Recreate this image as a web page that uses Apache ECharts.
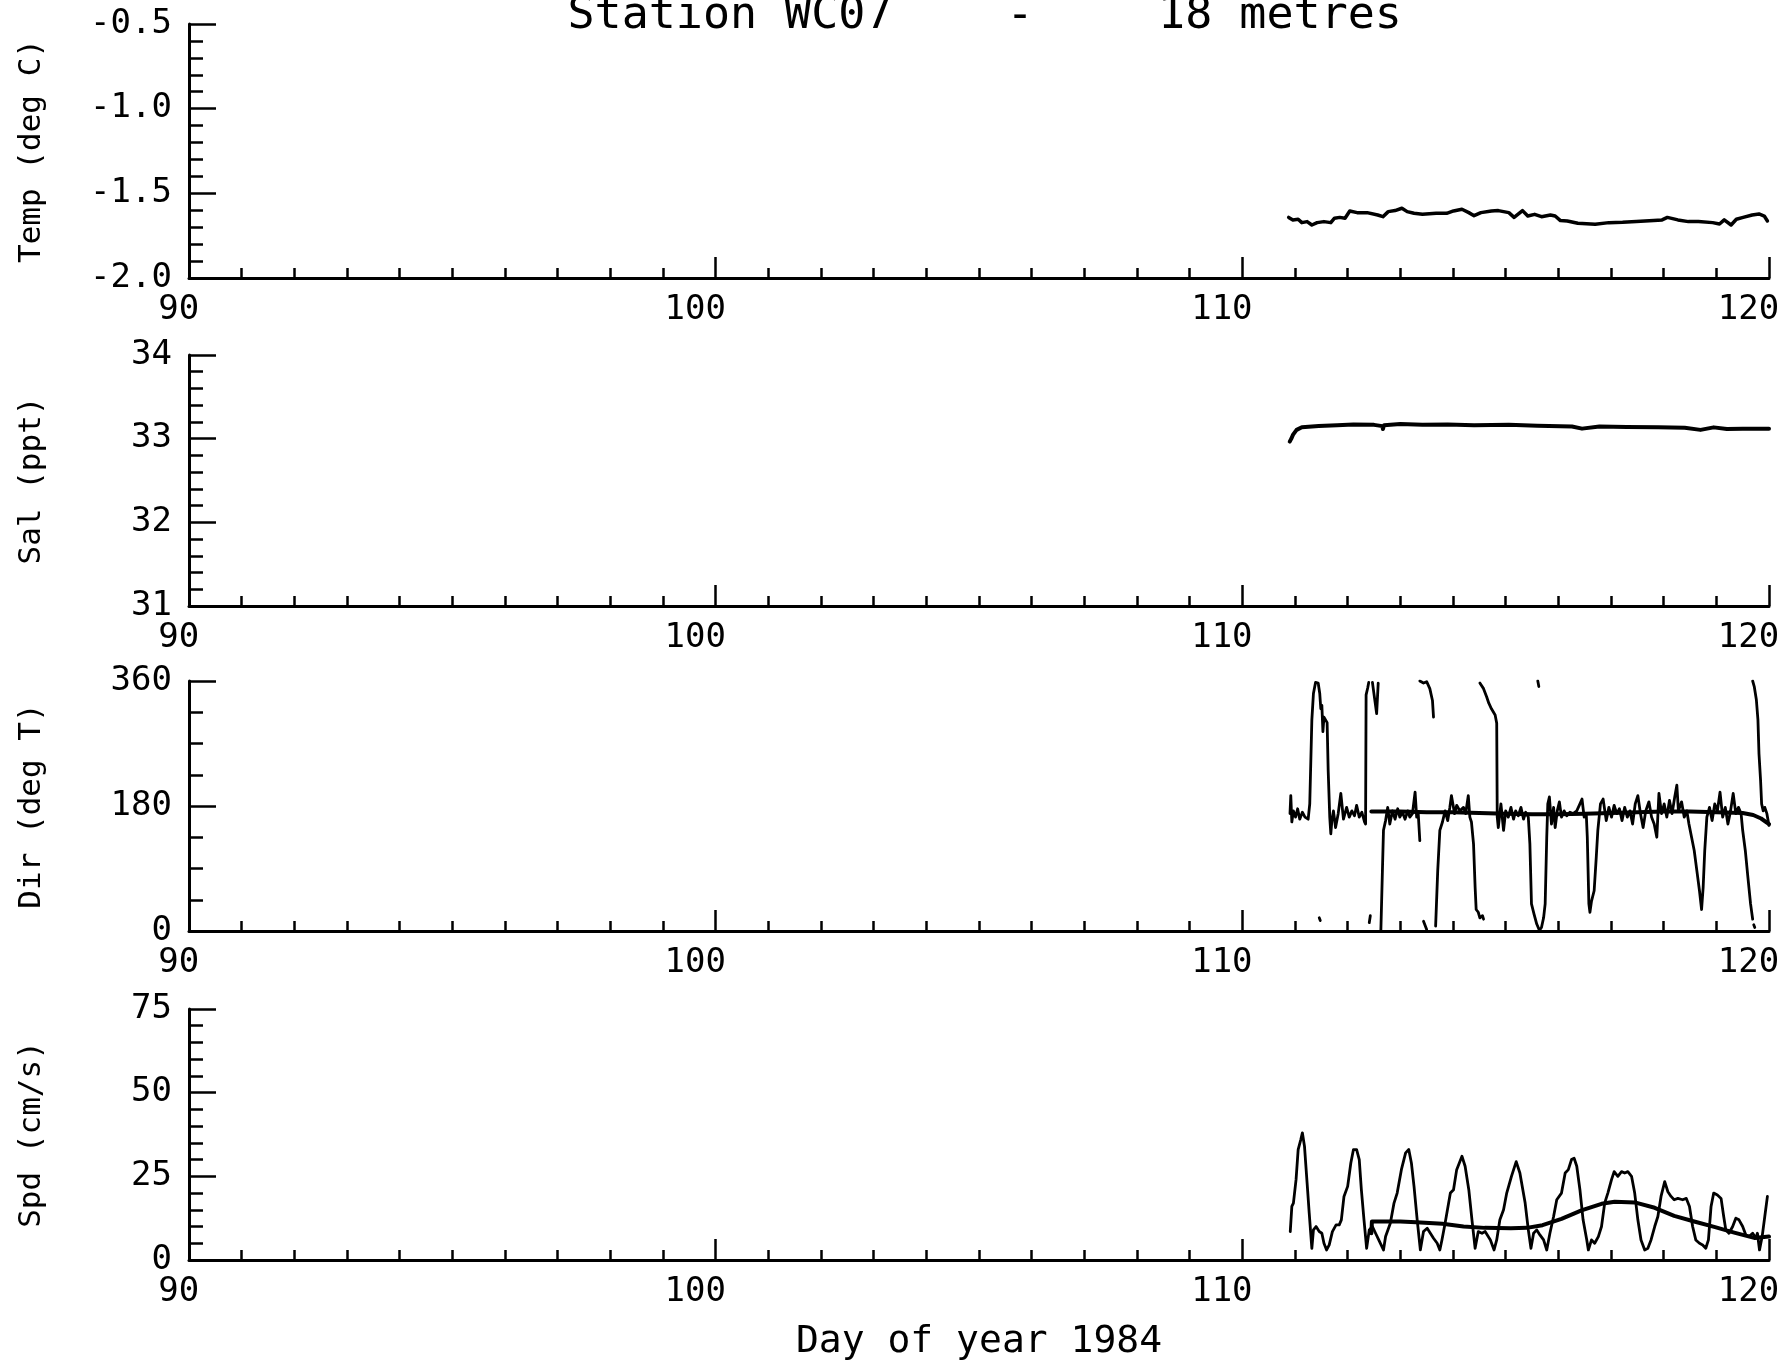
<!DOCTYPE html>
<html><head><meta charset="utf-8">
<script src="https://cdn.jsdelivr.net/npm/echarts@6/dist/echarts.min.js"></script>
<style>html,body{margin:0;padding:0;background:#fff;overflow:hidden}#c{width:1791px;height:1363px}</style>
</head><body><div id="c"></div>
<script>
// ---------- text ----------
const titleParts = ['Station WC07', '-', '18 metres'];
const yNames = ['Temp (deg C)', 'Sal (ppt)', 'Dir (deg T)', 'Spd (cm/s)'];
const xName = 'Day of year 1984';

// ---------- axes ----------
const xRange = [90, 120, 10];          // min, max, major interval
const tempRange = [-2.0, -0.5, 0.5];
const salRange = [31, 34, 1];
const dirRange = [0, 360, 180];
const spdRange = [0, 75, 25];

// ---------- data [day, value]; null = pen lifted ----------
const tempData = [
[110.88,-1.642],[110.96,-1.657],[111.06,-1.653],[111.13,-1.673],[111.23,-1.667],[111.32,-1.687],[111.42,-1.673],[111.55,-1.667],[111.68,-1.673],[111.75,-1.647],[111.85,-1.642],[111.95,-1.647],[112.04,-1.604],[112.18,-1.614],[112.37,-1.614],[112.57,-1.628],[112.67,-1.638],[112.77,-1.608],[112.90,-1.602],[113.03,-1.588],[113.13,-1.608],[113.26,-1.618],[113.42,-1.624],[113.68,-1.618],[113.88,-1.618],[114.01,-1.604],[114.17,-1.594],[114.30,-1.614],[114.40,-1.632],[114.53,-1.614],[114.73,-1.604],[114.86,-1.602],[115.06,-1.614],[115.16,-1.642],[115.32,-1.602],[115.42,-1.634],[115.55,-1.624],[115.68,-1.638],[115.85,-1.628],[115.94,-1.634],[116.04,-1.661],[116.17,-1.663],[116.37,-1.677],[116.70,-1.683],[116.96,-1.673],[117.22,-1.671],[117.48,-1.667],[117.81,-1.661],[117.97,-1.657],[118.07,-1.642],[118.27,-1.657],[118.47,-1.667],[118.66,-1.667],[118.93,-1.673],[119.06,-1.681],[119.15,-1.657],[119.28,-1.687],[119.38,-1.653],[119.51,-1.642],[119.68,-1.628],[119.81,-1.622],[119.91,-1.634],[119.97,-1.663]
];

const salData = [
[110.90,32.965],[110.93,33.00],[110.96,33.045],[111.03,33.105],[111.13,33.137],[111.45,33.15],[111.80,33.16],[112.11,33.17],[112.50,33.165],[112.66,33.15],[112.67,33.115],[112.69,33.16],[113.00,33.175],[113.42,33.165],[113.90,33.17],[114.40,33.16],[115.06,33.165],[115.60,33.155],[116.26,33.145],[116.45,33.12],[116.78,33.145],[117.30,33.14],[117.90,33.137],[118.40,33.13],[118.70,33.105],[118.95,33.135],[119.20,33.115],[119.50,33.12],[120.00,33.12]
];

const dirRaw = [
[110.905,169],[110.92,195],[110.94,157],[110.97,173],[111.01,164],[111.05,176],[111.09,161],[111.14,171],[111.19,164],[111.25,161],[111.28,183],[111.32,304],[111.35,342],[111.39,358],[111.44,357],[111.47,342],[111.49,320],[111.51,325],[111.53,287],[111.55,308],[111.58,304],[111.61,300],[111.63,231],[111.66,164],[111.68,140],[111.70,159],
[111.73,173],[111.77,149],[111.82,169],[111.87,198],[111.92,161],[111.98,178],[112.03,164],[112.08,173],[112.13,166],[112.17,181],[112.22,164],[112.27,171],[112.32,157],[112.34,154],[112.35,340],[112.38,350],[112.40,358],
null,
[112.47,358],[112.52,330],[112.55,313],[112.58,357],
null,
[111.46,19],[111.48,15],
null,
[112.41,12],[112.43,22],
null,
[112.63,0],[112.66,87],[112.68,145],[112.72,159],[112.76,178],[112.80,154],[112.85,173],[112.90,161],[112.95,176],[112.99,164],[113.04,171],[113.09,161],[113.14,173],[113.18,164],[113.23,169],[113.28,200],[113.31,164],[113.34,169],[113.37,130],
null,
[113.37,360],[113.44,357],[113.50,359],[113.56,349],[113.61,332],[113.63,308],
null,
[113.44,14],[113.50,2],
null,
[113.67,7],[113.71,87],[113.75,145],[113.80,157],[113.85,173],[113.90,159],[113.94,178],[113.97,195],[114.03,169],[114.07,181],[114.13,173],[114.20,178],[114.24,169],[114.29,195],[114.32,164],[114.35,157],[114.39,125],[114.42,63],[114.44,31],[114.48,27],[114.51,19],[114.56,22],[114.58,17],
null,
[114.51,357],[114.58,349],[114.64,337],[114.68,328],[114.73,320],[114.80,311],[114.83,299],[114.84,164],[114.86,149],[114.91,183],[114.96,145],[115.00,173],[115.05,164],[115.10,178],[115.15,161],[115.19,173],[115.24,166],[115.29,178],[115.34,161],[115.38,171],[115.40,169],[115.43,164],[115.46,125],[115.49,39],[115.54,24],[115.59,10],[115.64,1],[115.68,5],[115.72,19],[115.75,39],[115.78,135],[115.80,183],
[115.83,193],[115.87,154],[115.91,178],[115.94,149],[115.98,173],[116.02,186],[116.06,164],[116.11,173],[116.16,166],[116.22,171],[116.28,169],[116.35,173],[116.41,183],[116.45,190],[116.49,164],[116.53,169],[116.55,135],[116.58,39],[116.60,27],[116.63,43],[116.68,58],[116.72,106],[116.75,145],[116.80,183],
[116.85,190],[116.91,159],[116.96,178],[117.01,164],[117.06,181],[117.11,169],[117.16,176],[117.21,159],[117.26,178],[117.31,164],[117.36,173],[117.41,154],[117.46,183],[117.51,195],[117.56,169],[117.61,149],[117.66,173],[117.72,186],[117.77,164],[117.82,154],[117.87,135],[117.91,198],[117.96,169],[118.01,183],[118.06,164],[118.11,188],[118.16,169],[118.21,193],[118.25,210],[118.28,173],[118.34,186],[118.39,164],[118.44,173],[118.48,154],[118.53,135],[118.58,116],[118.63,87],[118.68,58],[118.72,31],[118.75,63],[118.78,116],[118.82,164],
[118.87,178],[118.92,159],[118.97,183],[119.02,173],[119.07,200],[119.12,164],[119.17,178],[119.22,154],[119.27,173],[119.32,198],[119.37,169],[119.42,178],[119.47,169],[119.50,145],[119.55,116],[119.60,77],[119.65,39],[119.69,17],
null,
[119.71,9],[119.73,5],
null,
[115.61,360],[115.63,352],
null,
[119.69,360],[119.72,352],[119.76,333],[119.79,304],[119.81,255],[119.84,217],[119.86,183],[119.89,173],[119.92,178],[119.96,169],[120.00,152]
];

const dirSmooth = [
[112.45,172],[113.0,172],[113.5,171],[114.0,171],[114.5,170],[115.0,169],[115.5,168],[116.0,168],[116.5,169],[117.0,170],[117.5,171],[118.0,172],[118.5,172],[119.0,171],[119.5,170],[119.7,167],[119.85,162],[120.0,154]
];

const spdRaw = [
[110.91,8.5],[110.94,16],[110.97,17],[111.02,24],[111.06,33],[111.11,36],[111.14,38],[111.18,34],[111.23,23],[111.27,14],[111.32,3.5],[111.35,9],[111.40,10],[111.46,8.5],[111.51,8],[111.55,5],[111.60,3],[111.65,4.5],[111.71,8.5],[111.78,10.5],[111.84,10.5],[111.88,12],[111.93,19],[112.00,22],[112.06,29],[112.11,33],[112.17,33],[112.22,30],[112.26,21],[112.31,12],[112.36,3.5],[112.41,9],[112.47,10],[112.53,8],[112.59,6],[112.68,3],[112.72,7],[112.81,11],[112.88,17],[112.94,20],[113.02,27],[113.10,32],[113.16,33],[113.21,29],[113.26,22],[113.32,12],[113.38,3],[113.44,8.5],[113.51,9.5],[113.57,8],[113.63,6.5],[113.70,5],[113.75,3],[113.79,6],[113.85,11],[113.95,20],[114.01,21],[114.07,27],[114.17,31],[114.23,28],[114.30,21],[114.36,12],[114.42,3.5],[114.48,8.5],[114.55,8],[114.61,8.5],[114.71,6],[114.78,3],[114.83,6],[114.89,12],[114.96,15],[115.02,20],[115.11,25],[115.20,29.4],[115.27,26],[115.37,17],
[115.43,9],[115.48,3.5],[115.53,8],[115.59,9],[115.65,7.5],[115.72,6],[115.78,3],[115.84,8],[115.91,13],[115.97,18],[116.06,20],[116.13,26],[116.19,27],[116.25,30],[116.30,30.4],[116.35,28],[116.41,21],[116.47,12],[116.54,6],[116.57,3],[116.63,6],[116.69,5],[116.76,7],[116.82,10],[116.88,17],[116.94,20],[117.01,24],[117.06,26.4],[117.13,25],[117.20,26.4],[117.26,26],[117.32,26.4],[117.39,25],[117.45,20],[117.51,12],[117.57,6],[117.64,3],[117.70,3.5],[117.76,6],[117.83,10],[117.89,13],[117.95,19],[118.02,23.4],[118.08,20.4],[118.14,19],[118.20,18],[118.27,18.4],[118.36,18],[118.43,18.4],[118.49,16],[118.55,10],[118.61,6],[118.68,5],[118.74,4.5],[118.80,3.5],[118.85,6],[118.90,16],[118.95,20],[119.02,19.4],[119.09,18.4],[119.14,13],[119.18,9],[119.24,8],[119.31,10],[119.37,12.5],[119.43,12],[119.50,10],[119.56,7.5],[119.62,7],[119.69,8],[119.75,6.5],[119.78,8],[119.82,3],[119.87,7],[119.92,13],[119.97,19]
];

const spdSmooth = [
[112.45,8],[112.46,11.5],[113.0,11.5],[113.3,11.3],[113.8,10.8],[114.2,10.0],[114.6,9.6],[115.1,9.5],[115.4,9.6],[115.7,10.4],[116.06,12.3],[116.44,14.8],[116.82,16.8],[117.07,17.4],[117.45,17.2],[117.83,15.6],[118.2,13.2],[118.58,11.5],[118.96,9.9],[119.34,8.2],[119.72,6.6],[120.0,7]
];

// ---------- build ----------
const FONT = '"DejaVu Sans Mono", "Liberation Mono", monospace';
const grids = [
  {top: 24, height: 254},
  {top: 355, height: 251},
  {top: 681, height: 250},
  {top: 1009, height: 251}
];
const yRanges = [tempRange, salRange, dirRange, spdRange];
const yMinor = [5, 5, 4, 5];
const yFmt = [v => v.toFixed(1), v => String(v), v => String(v), v => String(v)];

function splitSegments(arr) {
  const segs = []; let cur = [];
  arr.forEach(p => { if (p === null) { if (cur.length) segs.push(cur); cur = []; } else cur.push(p); });
  if (cur.length) segs.push(cur);
  return segs;
}

const option = {
  animation: false,
  backgroundColor: '#fff',
  grid: grids.map(g => ({left: 189, right: 22, top: g.top, height: g.height, containLabel: false, outerBoundsMode: 'none'})),
  xAxis: grids.map((g, i) => ({
    gridIndex: i, type: 'value', min: xRange[0], max: xRange[1], interval: xRange[2],
    name: i === 3 ? xName : '', nameLocation: 'middle', nameGap: 63,
    nameTextStyle: {fontFamily: FONT, fontSize: 38, color: '#000'},
    axisLine: {show: true, onZero: false, lineStyle: {color: '#000', width: 3}},
    axisTick: {show: true, inside: true, length: 21, lineStyle: {color: '#000', width: 2.5}},
    minorTick: {show: true, splitNumber: 10, length: 10, lineStyle: {color: '#000', width: 2.5}},
    axisLabel: {margin: 15, fontFamily: FONT, fontSize: 34, color: '#000', showMinLabel: true, showMaxLabel: true,
      formatter: v => { const s = String(v); return s + ' '.repeat(s.length - 1); }},
    splitLine: {show: false}
  })),
  yAxis: grids.map((g, i) => ({
    gridIndex: i, type: 'value', min: yRanges[i][0], max: yRanges[i][1], interval: yRanges[i][2],
    name: yNames[i], nameLocation: 'middle', nameGap: 142, nameRotate: 90,
    nameTextStyle: {fontFamily: FONT, fontSize: 31, color: '#000'},
    axisLine: {show: true, lineStyle: {color: '#000', width: 3}},
    axisTick: {show: true, inside: true, length: 27, lineStyle: {color: '#000', width: 2.5}},
    minorTick: {show: true, splitNumber: yMinor[i], length: 14, lineStyle: {color: '#000', width: 2.5}},
    axisLabel: {margin: 17, fontFamily: FONT, fontSize: 34, color: '#000', showMinLabel: true, showMaxLabel: true,
      formatter: yFmt[i]},
    splitLine: {show: false}
  })),
  graphic: [
    {type: 'text', x: 730, y: 16, style: {text: titleParts[0], fontFamily: FONT, fontSize: 45, fill: '#000', align: 'center', verticalAlign: 'middle', textAlign: 'center', textVerticalAlign: 'middle'}},
    {type: 'text', x: 1020, y: 16, style: {text: titleParts[1], fontFamily: FONT, fontSize: 45, fill: '#000', align: 'center', verticalAlign: 'middle', textAlign: 'center', textVerticalAlign: 'middle'}},
    {type: 'text', x: 1280, y: 16, style: {text: titleParts[2], fontFamily: FONT, fontSize: 45, fill: '#000', align: 'center', verticalAlign: 'middle', textAlign: 'center', textVerticalAlign: 'middle'}}
  ],
  series: []
};

function addLine(data, gi, width) {
  option.series.push({
    type: 'line', xAxisIndex: gi, yAxisIndex: gi, data: data, showSymbol: false, symbol: 'none',
    silent: true, smooth: false,
    lineStyle: {color: '#000', width: width, join: 'round', cap: 'round'}
  });
}
addLine(tempData, 0, 3.5);
addLine(salData, 1, 4);
splitSegments(dirRaw).forEach(s => addLine(s, 2, 2.8));
addLine(dirSmooth, 2, 4);
addLine(spdRaw, 3, 2.8);
addLine(spdSmooth, 3, 4);

const chart = echarts.init(document.getElementById('c'), null, {renderer: 'canvas'});
chart.setOption(option);
</script>
</body></html>
